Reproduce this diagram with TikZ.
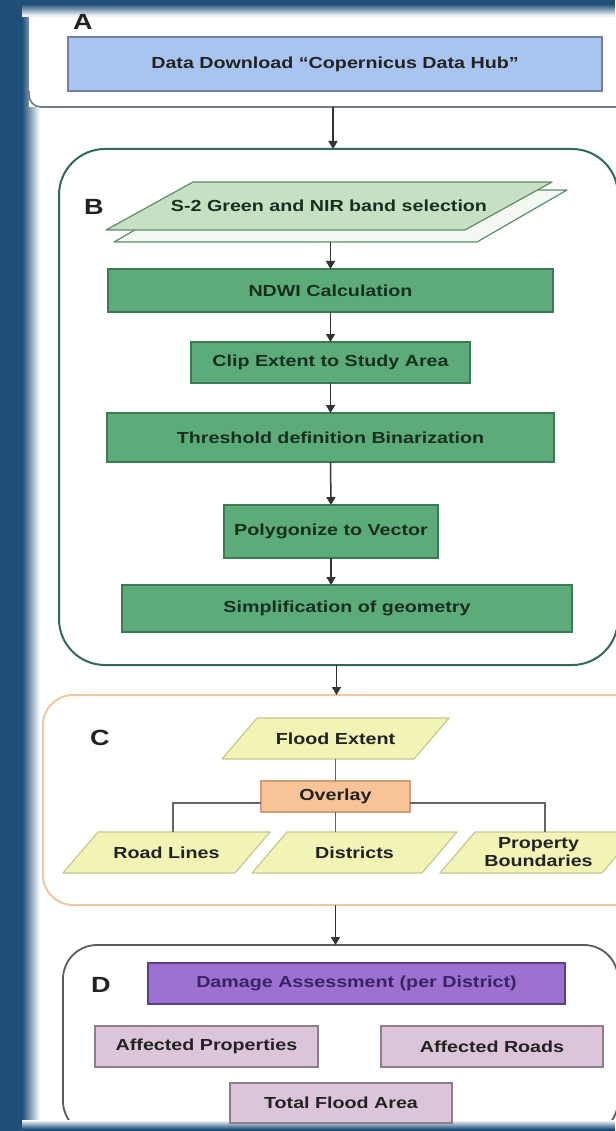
\documentclass[tikz,border=0pt]{standalone}
\usepackage{fontspec}
\setmainfont{Liberation Sans}[FakeStretch=1.23]
\usetikzlibrary{arrows.meta,calc}
\pgfdeclarelayer{back}
\pgfdeclarelayer{mid}
\pgfsetlayers{back,mid,main}
\definecolor{bgblue}{HTML}{1F4E79}
\definecolor{aBorder}{HTML}{6E7B8B}
\definecolor{dataFill}{HTML}{A9C4EE}
\definecolor{dataDraw}{HTML}{6F82A0}
\definecolor{bBorder}{HTML}{2E6B57}
\definecolor{s2Fill}{HTML}{C6E0C4}
\definecolor{s2Draw}{HTML}{5E8C6C}
\definecolor{s2Back}{HTML}{F3F8F1}
\definecolor{gFill}{HTML}{5DAB79}
\definecolor{gDraw}{HTML}{3C7A55}
\definecolor{gText}{HTML}{15301F}
\definecolor{cBorder}{HTML}{F0C9A2}
\definecolor{yFill}{HTML}{F2F4B6}
\definecolor{yDraw}{HTML}{C7C88E}
\definecolor{oFill}{HTML}{F8C396}
\definecolor{oDraw}{HTML}{CF9E78}
\definecolor{dBorder}{HTML}{5B5B5B}
\definecolor{pFill}{HTML}{9C71CF}
\definecolor{pDraw}{HTML}{5C3F88}
\definecolor{pText}{HTML}{3A2168}
\definecolor{mFill}{HTML}{DCC5D9}
\definecolor{mDraw}{HTML}{8E7E8C}
\definecolor{lineC}{HTML}{333333}
\definecolor{txt}{HTML}{222222}
% parallelogram drawn behind a named rectangular node: name, half offset, fill, draw
\newcommand\paraShape[4]{%
  \begin{pgfonlayer}{mid}
    \path[fill=#3, draw=#4, line width=1.2pt, line join=round]
      ([xshift=-#2]#1.south west) -- ([xshift=-#2]#1.south east) --
      ([xshift=#2]#1.north east) -- ([xshift=#2]#1.north west) -- cycle;
  \end{pgfonlayer}}
\begin{document}
\begin{tikzpicture}[x=1pt,y=-1pt,
  every node/.style={inner sep=0pt, outer sep=0pt},
  txtfont/.style={font=\bfseries\fontsize{16}{18}\selectfont},
  labfont/.style={font=\bfseries\fontsize{22}{24}\selectfont, text=txt},
  container/.style={rectangle, fill=white},
  databox/.style={rectangle, txtfont, fill=dataFill, draw=dataDraw, line width=1.3pt, text=txt},
  gbox/.style={rectangle, txtfont, fill=gFill, draw=gDraw, line width=1.3pt, text=gText},
  ptext/.style={rectangle, txtfont, text=txt, align=center},
  obox/.style={rectangle, txtfont, fill=oFill, draw=oDraw, line width=1.2pt, text=txt},
  pbox/.style={rectangle, txtfont, fill=pFill, draw=pDraw, line width=1.3pt, text=pText},
  mbox/.style={rectangle, txtfont, fill=mFill, draw=mDraw, line width=1.3pt, text=txt},
  arr/.style={draw=lineC, line width=1.5pt, -{Triangle[length=8pt,width=9pt]}},
  link/.style={draw=lineC!75, line width=1.8pt}
]
\useasboundingbox (0,0) rectangle (615,1131);

% ---------- background and containers ----------
\begin{pgfonlayer}{back}
  \fill[bgblue] (0,0) rectangle (615,1131);
  % left soft edge
  \foreach \i in {0,...,17}{
    \pgfmathsetmacro\p{100-\i*5.6}
    \fill[bgblue!\p!white] (22+\i,0) rectangle (24+\i,1131);
  }
  \fill[white] (40,14) rectangle (615,1122);
  % A
  \node[container, minimum width=611pt, minimum height=137pt] (contA) at (334.5,38.5) {};
  \draw[aBorder, line width=1.6pt, rounded corners=12pt]
    ([yshift=16pt]contA.south west) -- (contA.south west) -- (contA.south east);
  % top soft edge
  \foreach \i in {0,...,11}{
    \pgfmathsetmacro\p{100-\i*8.3}
    \fill[bgblue!\p!white] (22,4+\i) rectangle (615,6+\i);
  }
  \fill[bgblue] (0,0) rectangle (615,5);
  % B
  \node[container, draw=bBorder, line width=2pt, rounded corners=46pt,
        minimum width=559pt, minimum height=516pt] (contB) at (338.5,407) {};
  % C
  \node[container, draw=cBorder, line width=2pt, rounded corners=30pt,
        minimum width=600pt, minimum height=210pt] (contC) at (343,800) {};
  % D
  \node[container, draw=dBorder, line width=1.8pt, rounded corners=34pt,
        minimum width=555pt, minimum height=190pt] (contD) at (340.5,1040) {};
  % bottom soft edge
  \foreach \i in {0,...,8}{
    \pgfmathsetmacro\p{\i*11}
    \fill[bgblue!\p!white] (22,1120+\i) rectangle (615,1122+\i);
  }
  \fill[bgblue] (0,1129) rectangle (615,1131);
  \fill[bgblue] (0,0) rectangle (22,1131);
\end{pgfonlayer}

% ---------- A ----------
\node[labfont] (labA) at (83,22) {A};
\node[databox, minimum width=534pt, minimum height=54pt] (data) at (335,64)
  {Data Download “Copernicus Data Hub”};

% ---------- B ----------
\node[labfont] (labB) at (94,207) {B};
\node[rectangle, minimum width=363pt, minimum height=52pt] (s2back) at (340.5,216) {};
\paraShape{s2back}{45pt}{s2Back}{s2Draw}
\node[ptext, text=gText, minimum width=359pt, minimum height=48pt] (s2) at (329,206)
  {S-2 Green and NIR band selection};
\paraShape{s2}{43.5pt}{s2Fill}{s2Draw}
\node[gbox, minimum width=445pt, minimum height=43pt] (ndwi) at (330.5,290.5) {NDWI Calculation};
\node[gbox, minimum width=279pt, minimum height=41pt] (clip) at (330.5,362.5) {Clip Extent to Study Area};
\node[gbox, minimum width=447pt, minimum height=49pt] (thr) at (330.5,437.5) {Threshold definition Binarization};
\node[gbox, minimum width=214pt, minimum height=53pt] (poly) at (331,531.5) {Polygonize to Vector};
\node[gbox, minimum width=450pt, minimum height=47pt] (simp) at (347,608.5) {Simplification of geometry};

% ---------- C ----------
\node[labfont] (labC) at (100,738) {C};
\node[ptext, minimum width=192pt, minimum height=41pt] (flood) at (335.5,738.5) {Flood Extent};
\paraShape{flood}{17.5pt}{yFill}{yDraw}
\node[obox, minimum width=149pt, minimum height=31pt] (overlay) at (335.5,796.5) {Overlay};
\node[ptext, minimum width=172pt, minimum height=41pt] (road) at (166.5,852.5) {Road Lines};
\paraShape{road}{17.5pt}{yFill}{yDraw}
\node[ptext, minimum width=170pt, minimum height=41pt] (dist) at (354.5,852.5) {Districts};
\paraShape{dist}{17.5pt}{yFill}{yDraw}
\node[ptext, minimum width=162pt, minimum height=41pt] (prop) at (538.5,852.5) {Property\\Boundaries};
\paraShape{prop}{17.5pt}{yFill}{yDraw}

% ---------- D ----------
\node[labfont] (labD) at (101,985) {D};
\node[pbox, minimum width=417pt, minimum height=41pt] (dmg) at (356.5,983.5) {Damage Assessment (per District)};
\node[mbox, minimum width=223pt, minimum height=41pt] (aprop) at (206.5,1046.5) {Affected Properties};
\node[mbox, minimum width=222pt, minimum height=41pt] (aroad) at (492,1046.5) {Affected Roads};
\node[mbox, minimum width=222pt, minimum height=40pt] (total) at (341,1103) {Total Flood Area};

% ---------- connectors ----------
\draw[arr] ([xshift=-2pt]data.south |- contA.south) -- ([xshift=-2pt]data.south |- contB.north);
\draw[arr] (s2back.south -| ndwi.north) -- (ndwi.north);
\draw[arr] (ndwi.south) -- (clip.north);
\draw[arr] (clip.south) -- (thr.north);
\draw[arr] (thr.south) -- (poly.north);
\draw[arr] (poly.south) -- (poly.south |- simp.north);
\draw[arr] ([xshift=1pt]flood.south |- contB.south) -- ([xshift=1pt]flood.south |- contC.north);
\draw[link] (flood.south -| overlay.north) -- (overlay.north);
\draw[link] ([yshift=-6.5pt]overlay.west) -| ([xshift=6.5pt]road.north);
\draw[link] ([yshift=-6.5pt]overlay.east) -| ([xshift=6.5pt]prop.north);
\draw[link] (overlay.south) -- (overlay.south |- dist.north);
\draw[arr] (flood.south |- contC.south) -- (flood.south |- contD.north);
\end{tikzpicture}
\end{document}
